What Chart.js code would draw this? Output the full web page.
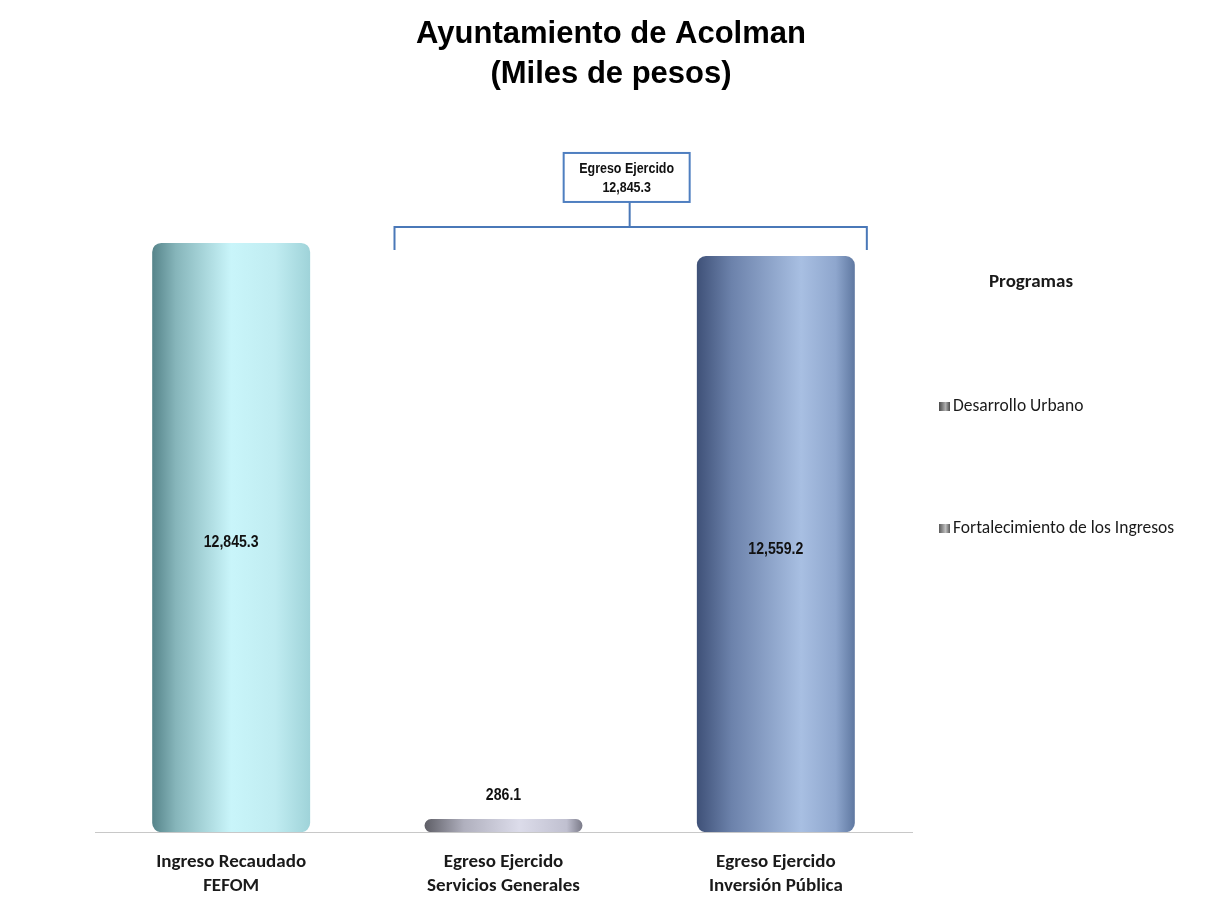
<!DOCTYPE html>
<html>
<head>
<meta charset="utf-8">
<script src="https://cdn.jsdelivr.net/npm/chart.js@4.4.1/dist/chart.umd.min.js"></script>
<style>
  html, body { margin: 0; padding: 0; background: #fff; }
  #wrap { width: 1206px; height: 905px; position: relative; }
</style>
</head>
<body>
<div id="wrap"><canvas id="chart"></canvas></div>
<script>
/* ── Data ──────────────────────────────────────────────── */
const titleLines = ['Ayuntamiento de Acolman', '(Miles de pesos)'];
const categories = [
  ['Ingreso Recaudado', 'FEFOM'],
  ['Egreso Ejercido', 'Servicios Generales'],
  ['Egreso Ejercido', 'Inversión Pública']
];
const values = [12845.3, 286.1, 12559.2];
const legendTitle = 'Programas';
const legendLabels = ['Desarrollo Urbano', 'Fortalecimiento de los Ingresos'];
const bracketLabel = 'Egreso Ejercido';

const ARIAL = "'Liberation Sans', Arial, sans-serif";
const CALIBRI = "Carlito, Lato, 'Open Sans', sans-serif";
const fmt = v => v.toLocaleString('en-US', { minimumFractionDigits: 1, maximumFractionDigits: 1 });

// cylinder-like horizontal gradients, one per bar
const barStops = [
  [[0, '#56848a'], [0.15, '#86b5ba'], [0.5, '#c9f5fa'], [0.78, '#c0ecf1'], [1, '#9fd3d9']],
  [[0, '#5e5e66'], [0.25, '#b0b0be'], [0.6, '#dcdcea'], [0.9, '#c0c0d0'], [1, '#7a7a88']],
  [[0, '#3f5178'], [0.22, '#6c82ab'], [0.66, '#a8bfe2'], [0.88, '#8ea6cd'], [1, '#5f78a1']]
];

function barFill(c) {
  const chart = c.chart;
  const area = chart.chartArea;
  if (!area) return barStops[c.dataIndex][2][1];
  const xs = chart.scales.x;
  const cx = xs.getPixelForValue(c.dataIndex);
  const half = (xs.width / categories.length) * 0.58 / 2;
  const g = chart.ctx.createLinearGradient(cx - half, 0, cx + half, 0);
  barStops[c.dataIndex].forEach(s => g.addColorStop(s[0], s[1]));
  return g;
}

// narrow bold text (Arial Narrow look) by squeezing Liberation Sans
function narrowText(ctx, text, x, y, size) {
  ctx.save();
  ctx.font = 'bold ' + size + 'px ' + ARIAL;
  ctx.textAlign = 'center';
  ctx.textBaseline = 'middle';
  ctx.translate(x, y);
  ctx.scale(0.83, 1);
  ctx.fillText(text, 0, 0);
  ctx.restore();
}

/* ── Overlay plugin: title, value labels, bracket, legend ── */
const overlay = {
  id: 'overlay',
  afterDatasetsDraw(chart) {
    const ctx = chart.ctx;
    const ys = chart.scales.y;
    const meta = chart.getDatasetMeta(0);

    ctx.save();
    // title
    ctx.fillStyle = '#000';
    ctx.font = 'bold 31px ' + ARIAL;
    ctx.textAlign = 'center';
    ctx.textBaseline = 'middle';
    ctx.fillText(titleLines[0], 611, 34);
    ctx.fillText(titleLines[1], 611, 74);

    // value labels
    ctx.fillStyle = '#111';
    meta.data.forEach((bar, i) => {
      const v = values[i];
      if (v > 3000) {
        narrowText(ctx, fmt(v), bar.x, (bar.y + bar.base) / 2 + 5, 17);
      } else {
        narrowText(ctx, fmt(v), bar.x, bar.y - 24, 17);
      }
    });

    // bracket over the two egreso bars
    const b1 = meta.data[1], b2 = meta.data[2];
    const left = b1.x - 109, right = b2.x + 91;
    const mid = (left + right) / 2 - 1;
    const hy = ys.getPixelForValue(values[0]) - 16;
    ctx.strokeStyle = '#4a78b8';
    ctx.lineWidth = 2;
    ctx.beginPath();
    ctx.moveTo(left, hy + 23); ctx.lineTo(left, hy); ctx.lineTo(right, hy); ctx.lineTo(right, hy + 23);
    ctx.moveTo(mid, hy); ctx.lineTo(mid, hy - 25);
    ctx.stroke();
    const bw = 126, bh = 49;
    const bx = mid - 66, by = hy - 25 - bh;
    ctx.fillStyle = '#fff';
    ctx.fillRect(bx, by, bw, bh);
    ctx.strokeStyle = '#4f7fc0';
    ctx.strokeRect(bx, by, bw, bh);
    ctx.fillStyle = '#111';
    narrowText(ctx, bracketLabel, bx + bw / 2, by + 16, 15);
    narrowText(ctx, fmt(values[1] + values[2]), bx + bw / 2, by + 35, 15);

    // legend
    ctx.fillStyle = '#1a1a1a';
    ctx.font = 'bold 19px ' + CALIBRI;
    ctx.textAlign = 'center';
    ctx.fillText(legendTitle, 1031, 282);
    ctx.font = '17.5px ' + CALIBRI;
    ctx.textAlign = 'left';
    const ly = [406, 528];
    const mc = [['#4a4a4a', '#b0b0b0'], ['#5a5a5a', '#c0c0c0']];
    legendLabels.forEach((t, i) => {
      const g = ctx.createLinearGradient(939, 0, 950, 0);
      g.addColorStop(0, mc[i][0]); g.addColorStop(0.6, mc[i][1]); g.addColorStop(1, mc[i][0]);
      ctx.fillStyle = g;
      ctx.fillRect(939, ly[i] - 4, 11, 9);
      ctx.fillStyle = '#1a1a1a';
      ctx.fillText(t, 953, ly[i] + 1);
    });
    ctx.restore();
  }
};

/* ── Chart ─────────────────────────────────────────────── */
new Chart(document.getElementById('chart'), {
  type: 'bar',
  data: {
    labels: categories,
    datasets: [{
      data: values,
      backgroundColor: barFill,
      borderWidth: 0,
      borderRadius: c => (c.dataIndex === 1 ? 7 : 9),
      borderSkipped: false,
      categoryPercentage: 1,
      barPercentage: 0.58
    }]
  },
  options: {
    responsive: true,
    maintainAspectRatio: false,
    animation: false,
    layout: { padding: { left: 95, right: 294, top: 190, bottom: -11 } },
    plugins: {
      legend: { display: false },
      tooltip: { enabled: false },
      title: { display: false }
    },
    scales: {
      x: {
        grid: { display: false, drawTicks: false },
        border: { display: true, color: '#c8c8c8', width: 1 },
        ticks: {
          color: '#1a1a1a',
          font: { family: CALIBRI, size: 19, weight: 'bold', lineHeight: 1.26 },
          padding: 18
        }
      },
      y: {
        display: false,
        min: 0,
        max: 14000
      }
    }
  },
  plugins: [overlay]
});
</script>
</body>
</html>
